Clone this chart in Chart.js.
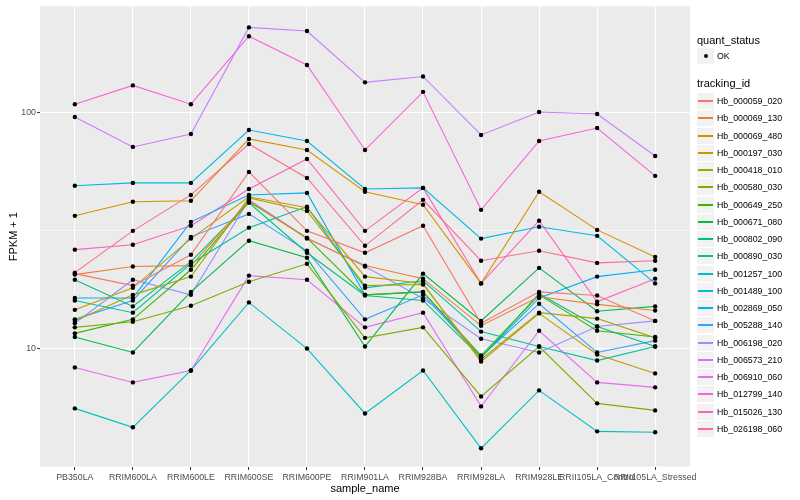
<!DOCTYPE html>
<html>
<head>
<meta charset="utf-8">
<title>FPKM + 1 by sample_name</title>
<script src="https://cdn.jsdelivr.net/npm/chart.js@4.4.1/dist/chart.umd.min.js"></script>
<style>
	html, body { margin: 0; padding: 0; background: #fff; }
	#wrap { position: relative; width: 800px; height: 500px; }
	#legend { position: absolute; left: 0; top: 0; width: 800px; height: 500px; pointer-events: none;
		font-family: "Liberation Sans", Arial, Helvetica, sans-serif; color: #000; }
	#legend .ttl { position: absolute; left: 697px; font-size: 11px; line-height: 13px; white-space: nowrap; }
	#legend .key { position: absolute; left: 697px; width: 17px; height: 16px; background: #F2F2F2; }
	#legend .key i { position: absolute; left: 1px; width: 15px; top: 7px; height: 2px; }
	#legend .key b { position: absolute; left: 7px; top: 6px; width: 4px; height: 4px; border-radius: 50%; background: #000; }
	#legend .lab { position: absolute; left: 717px; font-size: 8.8px; line-height: 16px; white-space: nowrap; }
</style>
</head>
<body>
<div id="wrap">
	<canvas id="chart" width="800" height="500"></canvas>
	<div id="legend"></div>
</div>
<script>
( function() {
	'use strict';

	// x categories
	var categories = [ 'PB350LA', 'RRIM600LA', 'RRIM600LE', 'RRIM600SE', 'RRIM600PE', 'RRIM901LA',
		'RRIM928BA', 'RRIM928LA', 'RRIM928LE', 'RRII105LA_Control', 'RRII105LA_Stressed' ];

	// y axis
	var yMajorTicks = [ 10, 100 ];
	var yMinorTicks = [ 3.1623, 31.623 ];

	var trackingIds = [ 'Hb_000059_020', 'Hb_000069_130', 'Hb_000069_480', 'Hb_000197_030', 'Hb_000418_010',
		'Hb_000580_030', 'Hb_000649_250', 'Hb_000671_080', 'Hb_000802_090', 'Hb_000890_030',
		'Hb_001257_100', 'Hb_001489_100', 'Hb_002869_050', 'Hb_005288_140', 'Hb_006198_020',
		'Hb_006573_210', 'Hb_006910_060', 'Hb_012799_140', 'Hb_015026_130', 'Hb_026198_060' ];

	var colours = [ '#F8766D', '#EA8331', '#D89000', '#C09B00', '#A3A500', '#7CAE00', '#39B600', '#00BB4E',
		'#00BF7D', '#00C1A3', '#00BFC4', '#00BAE0', '#00B0F6', '#35A2FF', '#9590FF', '#C77CFF', '#E76BF3',
		'#FA62DB', '#FF62BC', '#FF6C91' ];

	// FPKM + 1, one value per category
	var hb000059020 = [ 20.8, 18.5, 25.0, 56.2, 31.6, 25.5, 33.2, 12.8, 17.4, 16.8, 13.1 ];
	var hb000069130 = [ 20.6, 22.3, 22.5, 42.4, 29.3, 22.5, 19.8, 12.5, 16.6, 15.4, 14.5 ];
	var hb000069480 = [ 36.6, 42.0, 42.4, 77.6, 69.7, 46.3, 40.8, 18.9, 46.3, 31.9, 24.5 ];
	var hb000197030 = [ 14.6, 18.1, 29.3, 44.1, 39.6, 20.2, 18.9, 8.80, 14.1, 9.43, 7.84 ];
	var hb000418010 = [ 13.1, 16.9, 20.2, 43.6, 38.4, 18.5, 18.7, 8.98, 14.2, 13.4, 11.1 ];
	var hb000580030 = [ 12.3, 13.0, 15.2, 19.2, 22.9, 11.1, 12.3, 6.26, 10.2, 5.85, 5.46 ];
	var hb000649250 = [ 11.6, 13.3, 21.6, 42.0, 29.5, 16.9, 17.4, 9.34, 16.9, 11.9, 11.2 ];
	var hb000671080 = [ 11.2, 9.62, 17.4, 28.7, 24.3, 10.2, 20.8, 13.1, 22.0, 14.4, 15.1 ];
	var hb000802090 = [ 19.6, 15.1, 23.4, 41.6, 25.5, 16.8, 16.0, 9.16, 17.1, 12.4, 10.2 ];
	var hb000890030 = [ 16.0, 14.2, 22.9, 32.6, 40.0, 18.1, 19.4, 11.8, 10.2, 8.89, 10.2 ];
	var hb001257100 = [ 5.57, 4.63, 8.07, 15.7, 10.0, 5.30, 8.07, 3.77, 6.64, 4.45, 4.41 ];
	var hb001489100 = [ 49.1, 50.5, 50.5, 84.7, 76.1, 47.6, 48.1, 29.3, 32.9, 30.1, 18.9 ];
	var hb002869050 = [ 16.4, 16.4, 34.5, 44.9, 45.8, 16.9, 17.4, 9.16, 16.4, 20.2, 21.6 ];
	var hb005288140 = [ 13.3, 16.0, 29.8, 37.3, 26.0, 13.3, 16.9, 9.25, 15.5, 9.62, 10.8 ];
	var hb006198020 = [ 12.8, 19.6, 16.9, 42.8, 29.5, 22.3, 16.3, 11.0, 9.62, 12.4, 13.1 ];
	var hb006573210 = [ 96.2, 71.8, 81.5, 231, 223, 135, 143, 80.7, 101, 99.0, 65.7 ];
	var hb006910060 = [ 8.31, 7.18, 8.07, 20.4, 19.6, 12.3, 14.2, 5.68, 11.9, 7.18, 6.84 ];
	var hb012799140 = [ 109, 131, 109, 212, 160, 69.7, 123, 38.8, 76.1, 86.4, 54.1 ];
	var hb015026130 = [ 26.3, 27.6, 33.2, 47.6, 63.8, 31.6, 48.1, 18.9, 34.9, 15.8, 19.8 ];
	var hb026198060 = [ 21.0, 31.6, 44.9, 73.9, 53.0, 27.3, 42.8, 23.6, 26.0, 23.1, 23.6 ];

	var series = [ hb000059020, hb000069130, hb000069480, hb000197030, hb000418010, hb000580030,
		hb000649250, hb000671080, hb000802090, hb000890030, hb001257100, hb001489100, hb002869050,
		hb005288140, hb006198020, hb006573210, hb006910060, hb012799140, hb015026130, hb026198060 ];

	var FONT = '"Liberation Sans", Arial, Helvetica, sans-serif';

	function toPoints( values ) {
		return values.map( function( v, i ) {
			return { x: i, y: v };
		} );
	}

	function isMajor( value ) {
		return yMajorTicks.indexOf( value ) !== -1;
	}

	var datasets = series.map( function( values, i ) {
		return {
			label: trackingIds[ i ],
			data: toPoints( values ),
			borderColor: colours[ i ],
			backgroundColor: colours[ i ],
			borderWidth: 1.1,
			pointRadius: 0,
			tension: 0,
			fill: false,
			order: 2
		};
	} );

	// black points on top of every line (quant_status = OK)
	var allPoints = [];
	series.forEach( function( values ) {
		allPoints = allPoints.concat( toPoints( values ) );
	} );
	datasets.push( {
		label: 'OK',
		data: allPoints,
		showLine: false,
		pointRadius: 2.2,
		pointBackgroundColor: '#000',
		pointBorderWidth: 0,
		order: 1
	} );

	var panelBackground = {
		id: 'panelBackground',
		beforeDraw: function( chart ) {
			var ctx = chart.ctx;
			var a = chart.chartArea;
			ctx.save();
			ctx.fillStyle = '#fff';
			ctx.fillRect( 0, 0, chart.width, chart.height );
			ctx.fillStyle = '#EBEBEB';
			ctx.fillRect( a.left, a.top, a.right - a.left, a.bottom - a.top );
			ctx.restore();
		}
	};

	new Chart( document.getElementById( 'chart' ), {
		type: 'line',
		data: { datasets: datasets },
		plugins: [ panelBackground ],
		options: {
			responsive: false,
			animation: false,
			events: [],
			layout: { padding: { left: 0, top: 5, right: 110, bottom: 0 } },
			plugins: {
				legend: { display: false },
				tooltip: { enabled: false }
			},
			scales: {
				x: {
					type: 'linear',
					min: -0.6,
					max: 10.6,
					afterFit: function( axis ) {
						axis.height = 33;
					},
					afterBuildTicks: function( axis ) {
						axis.ticks = categories.map( function( c, i ) {
							return { value: i };
						} );
					},
					ticks: {
						autoSkip: false,
						maxRotation: 0,
						padding: 2,
						color: '#4D4D4D',
						font: { family: FONT, size: 8.8 },
						callback: function( value ) {
							return categories[ value ];
						}
					},
					grid: {
						color: '#FFFFFF',
						lineWidth: 1.1,
						tickLength: 3,
						tickColor: '#333333',
						tickWidth: 1
					},
					border: { display: false },
					title: {
						display: true,
						text: 'sample_name',
						color: '#000',
						font: { family: FONT, size: 11 },
						padding: { top: 0, bottom: 4 }
					}
				},
				y: {
					type: 'logarithmic',
					min: 3.14,
					max: 284,
					afterFit: function( axis ) {
						axis.width = 40;
					},
					afterBuildTicks: function( axis ) {
						axis.ticks = yMinorTicks.concat( yMajorTicks ).sort( function( a, b ) {
							return a - b;
						} ).map( function( v ) {
							return { value: v };
						} );
					},
					ticks: {
						padding: 1,
						color: '#4D4D4D',
						font: { family: FONT, size: 8.8 },
						callback: function( value ) {
							return isMajor( value ) ? String( value ) : '';
						}
					},
					grid: {
						color: '#FFFFFF',
						lineWidth: function( ctx ) {
							return ctx.tick && isMajor( ctx.tick.value ) ? 1.1 : 0.55;
						},
						tickLength: 3,
						tickColor: function( ctx ) {
							return ctx.tick && isMajor( ctx.tick.value ) ? '#333333' : 'rgba(0,0,0,0)';
						},
						tickWidth: 1
					},
					border: { display: false },
					title: {
						display: true,
						text: 'FPKM + 1',
						color: '#000',
						font: { family: FONT, size: 11 },
						padding: { top: 7, bottom: 0 }
					}
				}
			}
		}
	} );

	// legend, ggplot style
	var legend = document.getElementById( 'legend' );

	function addEl( cls, top, html ) {
		var el = document.createElement( 'div' );
		el.className = cls;
		el.style.top = top + 'px';
		el.innerHTML = html || '';
		legend.appendChild( el );
		return el;
	}

	addEl( 'ttl', 34 ).textContent = 'quant_status';
	addEl( 'key', 48, '<b></b>' );
	addEl( 'lab', 48 ).textContent = 'OK';
	addEl( 'ttl', 77 ).textContent = 'tracking_id';

	trackingIds.forEach( function( id, i ) {
		var top = Math.round( 93 + i * 17.25 );
		var key = addEl( 'key', top, '<i></i>' );
		key.firstChild.style.background = colours[ i ];
		addEl( 'lab', top ).textContent = id;
	} );
} )();
</script>
</body>
</html>
